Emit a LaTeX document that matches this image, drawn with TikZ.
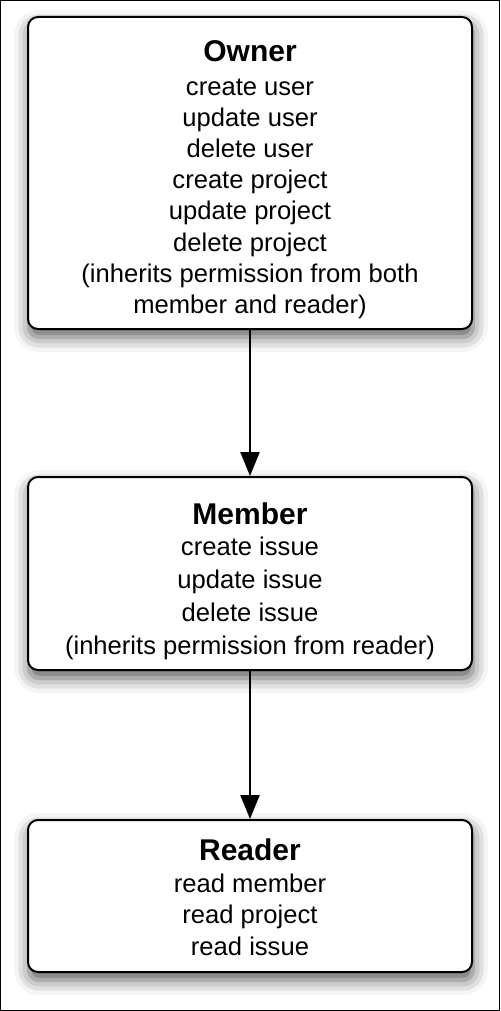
\documentclass[tikz,border=0pt]{standalone}
\usepackage{fontspec}
\setmainfont{Liberation Sans}
\usetikzlibrary{arrows.meta,shadows.blur}
\newcommand\roletitle[1]{{\fontsize{15}{15.6}\selectfont\bfseries #1}}

\begin{document}
\begin{tikzpicture}[x=0.5pt,y=-0.5pt,
  role/.style={draw,line width=1pt,rounded corners=5pt,fill=white,
    minimum width=222pt,align=center,inner sep=0pt,
    font=\fontsize{12.8}{15.6}\selectfont,
    blur shadow={shadow xshift=0.5pt,shadow yshift=-4pt,
      shadow blur radius=7.5pt,shadow opacity=65}},
  inherit/.style={-{Triangle[width=9.5pt,length=12pt]},line width=1.2pt}]
\useasboundingbox (0,0) rectangle (500,1011);
\draw[line width=0.5pt] (0.5,0.5) rectangle (499.5,1010.5);
% roles
\node[role,minimum height=156pt] (owner) at (250,173)
     {\rule{0pt}{18.55pt}\roletitle{Owner}\\[1.05pt]
      create user\\ update user\\ delete user\\
      create project\\ update project\\ delete project\\
      (inherits permission from both\\
      member and reader)\rule[-4pt]{0pt}{4pt}};
\node[role,minimum height=96.5pt] (member) at (250,573.5)
     {\rule{0pt}{19.65pt}\roletitle{Member}\\[-0.25pt]
      create issue\\[0.9pt] update issue\\[0.9pt] delete issue\\[0.9pt]
      (inherits permission from reader)\rule[-4pt]{0pt}{4pt}};
\node[role,minimum height=76pt] (reader) at (250,896)
     {\rule{0pt}{15.9pt}\roletitle{Reader}\\[0.4pt]
      read member\\ read project\\
      read issue\rule[-4pt]{0pt}{4pt}};
% inheritance
\draw[inherit] (owner) -- (member);
\draw[inherit] (member) -- (reader);
\end{tikzpicture}
\end{document}
